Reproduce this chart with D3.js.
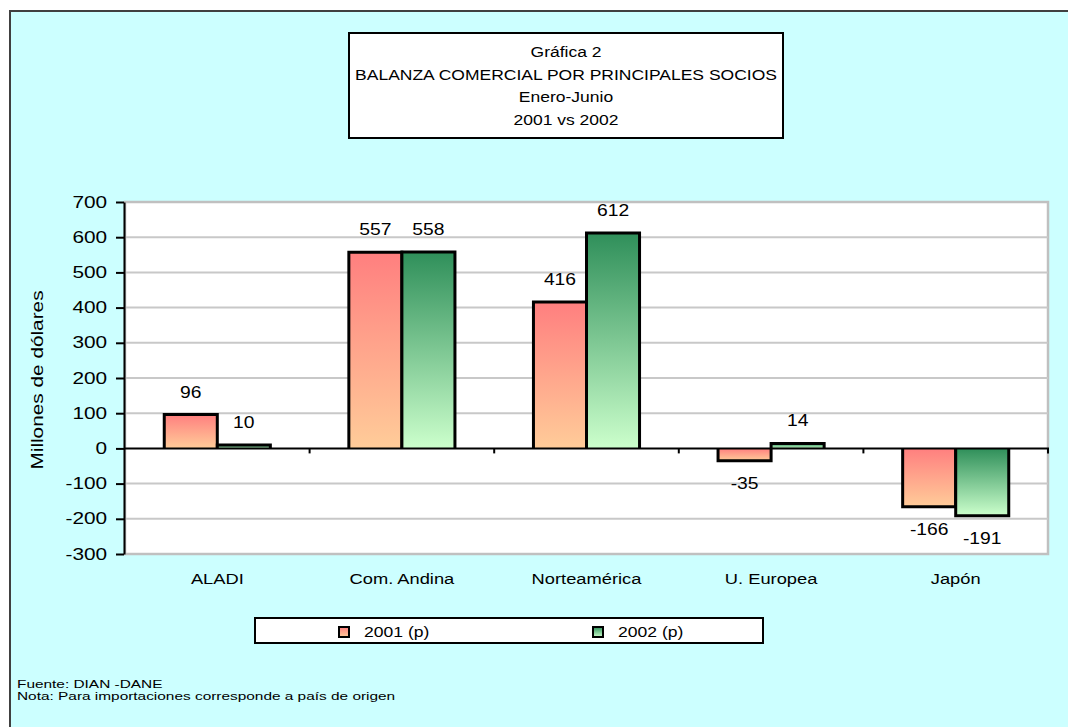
<!DOCTYPE html>
<html>
<head>
<meta charset="utf-8">
<script src="https://cdn.jsdelivr.net/npm/d3@7"></script>
<style>
  body { margin: 0; background: #fff; }
  svg { display: block; font-family: "Liberation Sans", Arial, sans-serif; }
</style>
</head>
<body>
<div id="chart"></div>
<script>
// chart values
const categories = ["ALADI", "Com. Andina", "Norteamérica", "U. Europea", "Japón"];
const seriesNames = ["2001 (p)", "2002 (p)"];
const values2001 = [96, 557, 416, -35, -166];
const values2002 = [10, 558, 612, 14, -191];
const yTickValues = [-300, -200, -100, 0, 100, 200, 300, 400, 500, 600, 700];
const titleLines = ["Gráfica 2", "BALANZA COMERCIAL POR PRINCIPALES SOCIOS", "Enero-Junio", "2001 vs 2002"];
const notes = ["Fuente: DIAN -DANE", "Nota: Para importaciones corresponde a país de origen"];

const width = 1068, height = 727;
const plot = { left: 125, right: 1048, top: 202, bottom: 554 };

const svg = d3.select("#chart").append("svg")
  .attr("width", width)
  .attr("height", height);

// gradients for the two series
const defs = svg.append("defs");
const gradColors = [["#ff7f7f", "#ffcc99"], ["#2f8f5a", "#ccffcc"]];
gradColors.forEach((c, i) => {
  const g = defs.append("linearGradient")
    .attr("id", "grad" + i)
    .attr("x1", 0).attr("y1", 0).attr("x2", 0).attr("y2", 1);
  g.append("stop").attr("offset", "0%").attr("stop-color", c[0]);
  g.append("stop").attr("offset", "100%").attr("stop-color", c[1]);
});

// outer frame
svg.append("rect")
  .attr("x", 10).attr("y", 11)
  .attr("width", 1080).attr("height", 740)
  .attr("fill", "#ccffff")
  .attr("stroke", "#404040")
  .attr("stroke-width", 2);

// text that is drawn wider, like the original rendering
function wideText(parent, x, y, str, size, sx, anchor, rotate) {
  return parent.append("text")
    .attr("transform", `translate(${x},${y}) rotate(${rotate || 0}) scale(${sx},1)`)
    .attr("text-anchor", anchor || "middle")
    .attr("font-size", size)
    .attr("fill", "#000")
    .text(str);
}

// title box
svg.append("rect")
  .attr("x", 349).attr("y", 33)
  .attr("width", 434).attr("height", 105)
  .attr("fill", "#fff")
  .attr("stroke", "#000")
  .attr("stroke-width", 2);
titleLines.forEach((t, i) => {
  wideText(svg, 566, 57 + i * 22.5, t, 15.5, 1.13);
});

// scales
const x0 = d3.scaleBand()
  .domain(categories)
  .range([plot.left, plot.right])
  .padding(0);

const x1 = d3.scaleBand()
  .domain(seriesNames)
  .range([0, x0.bandwidth()])
  .paddingInner(0)
  .paddingOuter(0.74);

const y = d3.scaleLinear()
  .domain([-300, 700])
  .range([plot.bottom, plot.top]);

// plot area
svg.append("rect")
  .attr("x", plot.left).attr("y", plot.top)
  .attr("width", plot.right - plot.left)
  .attr("height", plot.bottom - plot.top)
  .attr("fill", "#fff")
  .attr("stroke", "#c0c0c0")
  .attr("stroke-width", 2.5);

// gridlines
svg.append("g")
  .selectAll("line")
  .data(yTickValues.filter((v) => v !== -300 && v !== 700 && v !== 0))
  .enter()
  .append("line")
  .attr("x1", plot.left).attr("x2", plot.right)
  .attr("y1", (d) => y(d)).attr("y2", (d) => y(d))
  .attr("stroke", "#c8c8c8")
  .attr("stroke-width", 2);

// bars
const rows = categories.map((c, i) => ({
  cat: c,
  vals: [values2001[i], values2002[i]],
}));

const groups = svg.append("g")
  .selectAll("g")
  .data(rows)
  .enter()
  .append("g")
  .attr("transform", (d) => `translate(${x0(d.cat)},0)`);

const bars = groups.selectAll("g")
  .data((d) => d.vals.map((v, j) => ({ v: v, s: seriesNames[j], j: j })))
  .enter()
  .append("g");

bars.append("rect")
  .attr("x", (d) => x1(d.s))
  .attr("y", (d) => Math.min(y(d.v), y(0)))
  .attr("width", x1.bandwidth())
  .attr("height", (d) => Math.abs(y(d.v) - y(0)))
  .attr("fill", (d) => `url(#grad${d.j})`);

// outline on three sides (not along the zero line)
bars.append("path")
  .attr("d", (d) => {
    const xa = x1(d.s), xb = x1(d.s) + x1.bandwidth();
    const y0 = y(0), yv = y(d.v);
    return `M${xa},${y0} L${xa},${yv} L${xb},${yv} L${xb},${y0}`;
  })
  .attr("fill", "none")
  .attr("stroke", "#000")
  .attr("stroke-width", 3)
  .attr("stroke-linejoin", "miter");

// value labels
bars.each(function (d) {
  const cx = x1(d.s) + x1.bandwidth() / 2;
  const ly = d.v >= 0 ? y(d.v) - 17 : y(d.v) + 28;
  wideText(d3.select(this), cx, ly, String(d.v), 16.5, 1.17);
});

// zero line with ticks at the category boundaries
svg.append("line")
  .attr("x1", plot.left).attr("x2", plot.right + 1)
  .attr("y1", y(0)).attr("y2", y(0))
  .attr("stroke", "#000")
  .attr("stroke-width", 2);

svg.append("g")
  .selectAll("line")
  .data(categories)
  .enter()
  .append("line")
  .attr("x1", (d) => x0(d) + x0.step())
  .attr("x2", (d) => x0(d) + x0.step())
  .attr("y1", y(0)).attr("y2", y(0) + 5)
  .attr("stroke", "#000")
  .attr("stroke-width", 2);

// y axis (plain hyphen for negatives, as in the original)
const yAxis = d3.axisLeft(y)
  .tickValues(yTickValues)
  .tickFormat((d) => String(d))
  .tickSizeInner(8)
  .tickSizeOuter(0)
  .tickPadding(5);

const yg = svg.append("g")
  .attr("transform", `translate(${plot.left - 1},0)`)
  .call(yAxis);
yg.select(".domain").attr("stroke-width", 2);
yg.selectAll(".tick line").attr("stroke-width", 2);
yg.selectAll(".tick text")
  .attr("font-size", 16)
  .attr("font-family", "Liberation Sans, Arial, sans-serif")
  .attr("fill", "#000")
  .attr("transform", "scale(1.3,1)");

// axis title
wideText(svg, 43, 380, "Millones de dólares", 16, 1.3, "middle", -90);

// category labels
categories.forEach((c) => {
  wideText(svg, x0(c) + x0.bandwidth() / 2, 584, c, 15, 1.22);
});

// legend
svg.append("rect")
  .attr("x", 255).attr("y", 618)
  .attr("width", 508).attr("height", 25)
  .attr("fill", "#fff")
  .attr("stroke", "#000")
  .attr("stroke-width", 2);

const legendX = [339, 593];
seriesNames.forEach((s, i) => {
  svg.append("rect")
    .attr("x", legendX[i]).attr("y", 627)
    .attr("width", 10).attr("height", 10)
    .attr("fill", `url(#grad${i})`)
    .attr("stroke", "#000")
    .attr("stroke-width", 2);
  wideText(svg, legendX[i] + 25, 637, s, 15, 1.17, "start");
});

// notes
notes.forEach((n, i) => {
  wideText(svg, 17, 688 + i * 12, n, 11, 1.4, "start");
});
</script>
</body>
</html>
